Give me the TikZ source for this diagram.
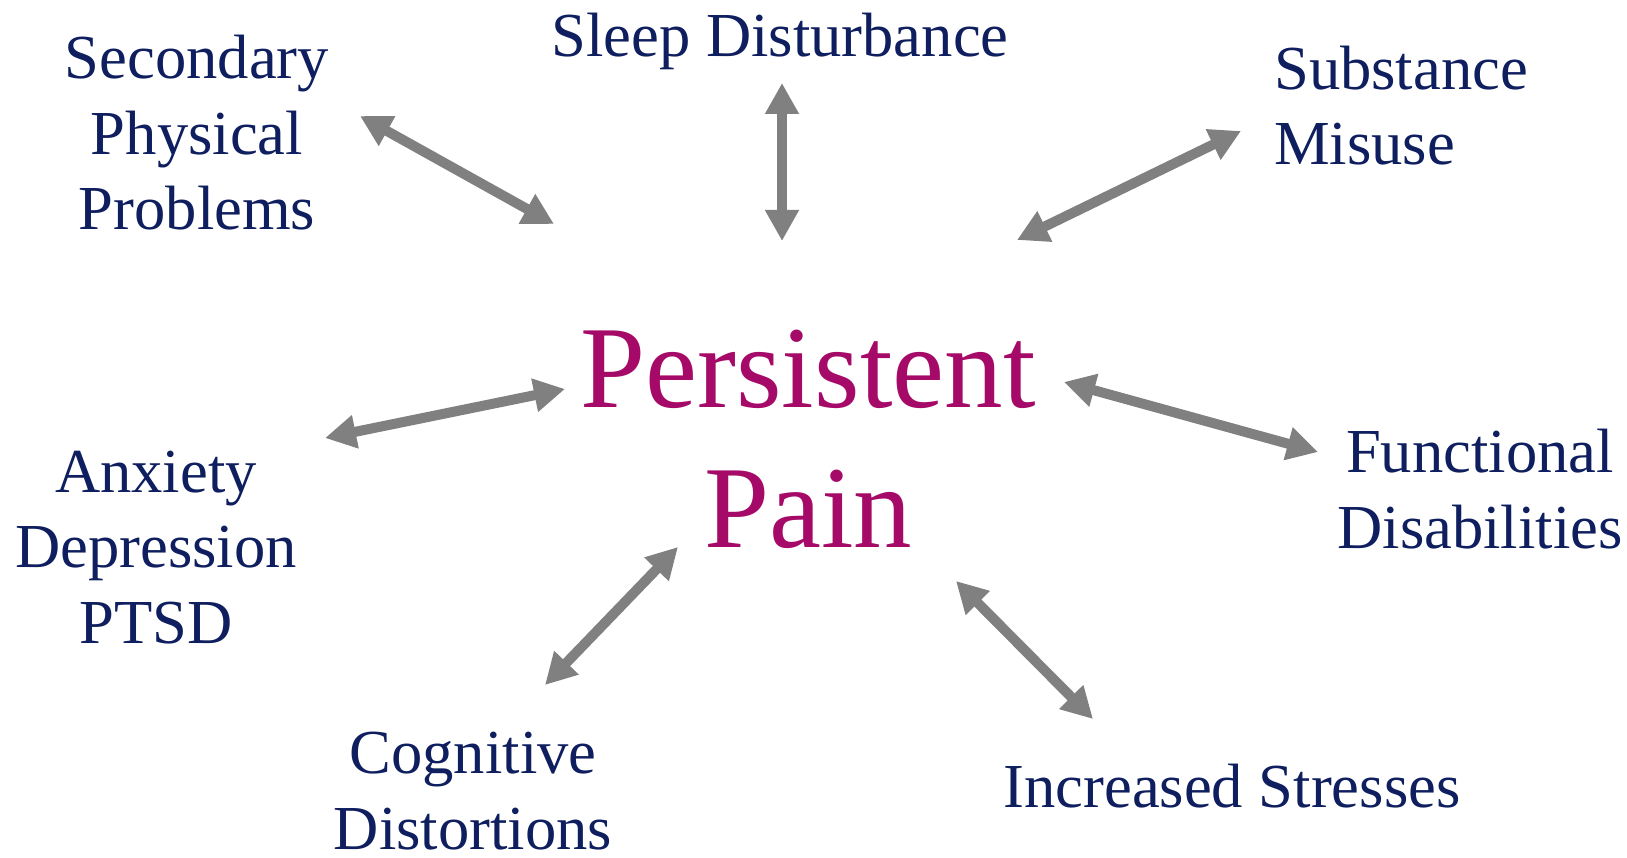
\documentclass[tikz,border=0pt]{standalone}
\usepackage{fontspec}
\setmainfont{Liberation Serif}
\usetikzlibrary{arrows.meta}
\definecolor{navy}{RGB}{14,30,94}
\definecolor{magentared}{RGB}{166,10,104}
\definecolor{arrowgray}{RGB}{128,128,128}
\tikzset{
  lbl/.style={text=navy, font=\fontsize{62.6}{75.5}\selectfont, inner sep=0pt, anchor=base, align=center},
  lblleft/.style={lbl, align=left, anchor=base west},
  centre/.style={text=magentared, font=\fontsize{117}{140}\selectfont, inner sep=0pt, anchor=base, align=center},
  link/.style={draw=arrowgray, line width=10pt, {Triangle[length=31pt,width=32pt]}-{Triangle[length=31pt,width=32pt]}}
}
\begin{document}
\begin{tikzpicture}[x=1pt,y=-1pt]
\useasboundingbox (0,0) rectangle (1627,858);
\node[centre] (pp) at (808,547) {Persistent\\Pain};
\node[lbl] (spp) at (197,230) {Secondary\\Physical\\Problems};
\node[lbl] (sd) at (780,57) {Sleep Disturbance};
\node[lblleft] (sm) at (1274,165) {Substance\\Misuse};
\node[lbl] (fd) at (1480,548) {Functional\\Disabilities};
\node[lbl] (is) at (1232,807) {Increased Stresses};
\node[lbl] (cd) at (473,849) {Cognitive\\Distortions};
\node[lbl] (adp) at (156,643) {Anxiety\\Depression\\PTSD};
% connector ends
\coordinate (a1) at (360,116); \coordinate (b1) at (554,224);
\coordinate (a2) at (782,83);  \coordinate (b2) at (782,241);
\coordinate (a3) at (1241,131); \coordinate (b3) at (1017,240);
\coordinate (a4) at (1318,452); \coordinate (b4) at (1064,382);
\coordinate (a5) at (1093,719); \coordinate (b5) at (956,581);
\coordinate (a6) at (545,685); \coordinate (b6) at (678,547);
\coordinate (a7) at (325,438); \coordinate (b7) at (565,389);
\foreach \i in {1,...,7} { \draw[link] (a\i) -- (b\i); }
\end{tikzpicture}
\end{document}
